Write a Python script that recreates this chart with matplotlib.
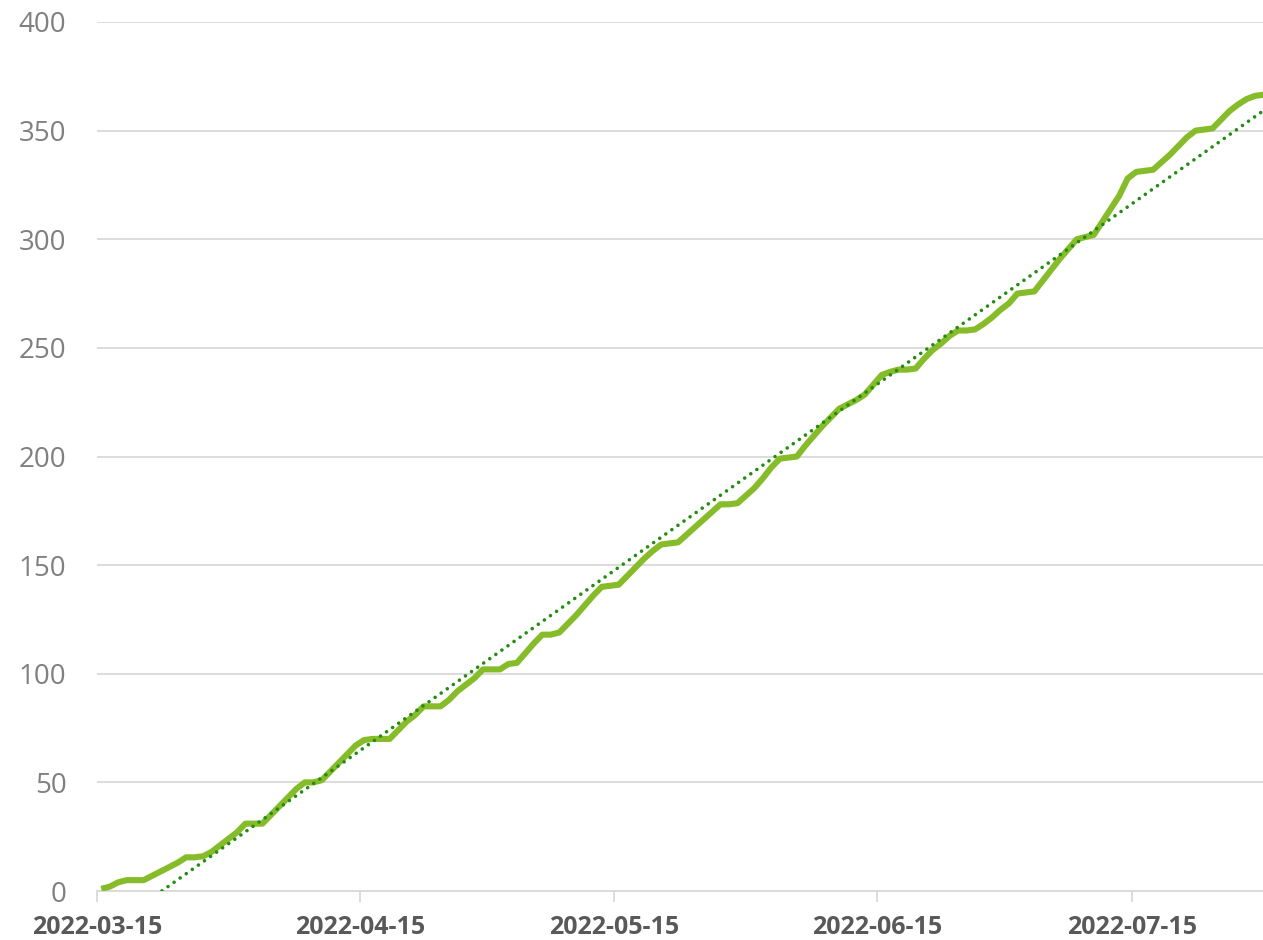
import numpy as np
import pandas as pd
import matplotlib
matplotlib.use("Agg")
import matplotlib.pyplot as plt
import matplotlib.dates as mdates

# ---- data ----
start_date = "2022-03-15"
end_date = "2022-07-30"
cumulative = [
    1, 2, 4, 5, 5, 5, 7, 9, 11, 13,
    15.5, 15.5, 16, 18, 21, 24, 27, 31, 31, 31,
    35, 39, 43, 47, 50, 50, 51, 55, 59, 63,
    67, 69.5, 70, 70, 70, 74, 78, 81, 85, 85,
    85, 88, 92, 95, 98, 102, 102, 102, 104.5, 105,
    109.5, 114, 118, 118, 119, 123, 127, 131.5, 136, 140,
    140.5, 141, 145, 149, 153, 156.5, 159.5, 160, 160.5, 164,
    167.5, 171, 174.5, 178, 178, 178.5, 182, 185.5, 190, 195,
    199, 199.5, 200, 205, 209.5, 214, 218, 222, 224, 226,
    228.5, 233, 237.5, 239, 240, 240, 240.5, 245, 249, 252,
    255.5, 258, 258, 258.5, 261, 264, 267.5, 270.5, 275, 275.5,
    276, 281, 286, 291, 295.5, 300, 301, 302, 308, 314,
    320, 328, 331, 331.5, 332, 335.5, 339, 343, 347, 350,
    350.5, 351, 355, 359, 362, 364.5, 366, 366.5,
]
tick_dates = ["2022-03-15", "2022-04-15", "2022-05-15", "2022-06-15", "2022-07-15"]
y_ticks = [0, 50, 100, 150, 200, 250, 300, 350, 400]

dates = pd.date_range(start_date, end_date, freq="D")
values = np.array(cumulative, dtype=float)

# linear trend (least squares)
day_idx = np.arange(len(values))
slope, intercept = np.polyfit(day_idx, values, 1)
trend = slope * day_idx + intercept

# ---- figure ----
fig = plt.figure(figsize=(12.63, 9.40), dpi=100)
ax = fig.add_axes([97 / 1263, 1 - 891 / 940, 1 - 97 / 1263, (891 - 22) / 940])

xpos = dates + pd.Timedelta(hours=12)  # points centred within each day
ax.plot(xpos, values, color="#86BC2A", lw=4.4, solid_joinstyle="round",
        solid_capstyle="butt", zorder=3)
ax.plot(xpos, trend, color="#248C12", lw=2.6, linestyle=(0, (0.01, 2.05)),
        dash_capstyle="round", zorder=4)

x0 = pd.Timestamp(start_date)
ax.set_xlim(x0, x0 + pd.Timedelta(days=137.45))
ax.set_ylim(0, 400)

ax.set_yticks(y_ticks)
ax.yaxis.grid(True, color="#D9D9D9", lw=1.3)
ax.set_axisbelow(True)
ax.tick_params(axis="y", length=0, pad=22, labelsize=20, labelcolor="#808080")
for lbl in ax.get_yticklabels():
    lbl.set_fontfamily("Open Sans")

ax.set_xticks(pd.to_datetime(tick_dates))
ax.xaxis.set_major_formatter(mdates.DateFormatter("%Y-%m-%d"))
ax.tick_params(axis="x", length=8, width=1.3, color="#D9D9D9", pad=9,
               labelsize=18, labelcolor="#595959")
for lbl in ax.get_xticklabels():
    lbl.set_fontfamily("Open Sans")
    lbl.set_fontweight("bold")

for s in ["top", "right", "left"]:
    ax.spines[s].set_visible(False)
ax.spines["bottom"].set_color("#D9D9D9")
ax.spines["bottom"].set_linewidth(1.3)

fig.savefig("out.png", dpi=100)
